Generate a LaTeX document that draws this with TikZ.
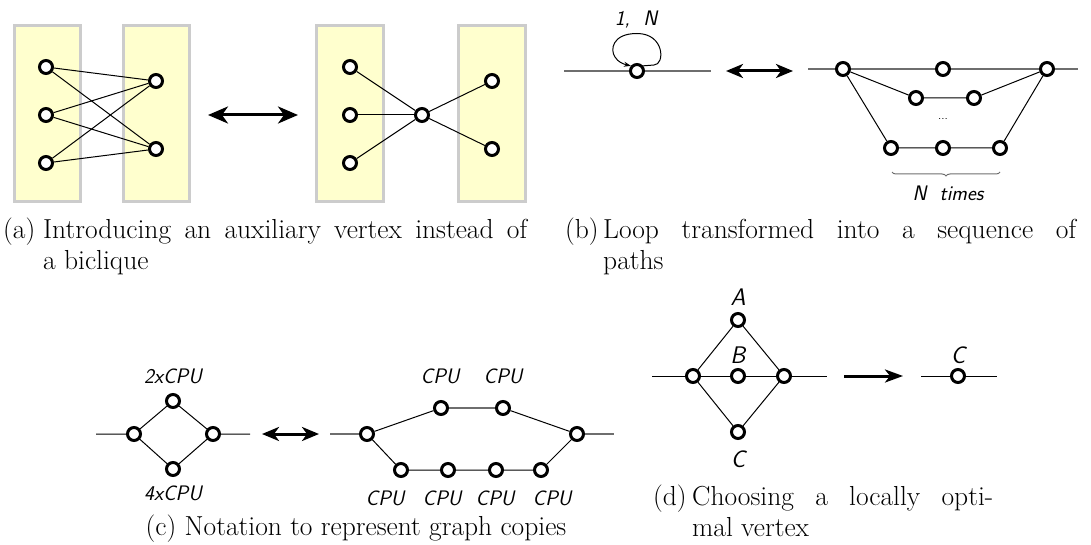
\documentclass[tikz,border=0pt]{standalone}
\usepackage{fontspec}
\usetikzlibrary{arrows.meta,decorations.pathreplacing}
\definecolor{panelfill}{RGB}{255,255,206}
\definecolor{panelline}{RGB}{204,204,204}
\definecolor{thrugray}{RGB}{110,110,110}
\newcommand\capfont{\fontsize{27.5}{31}\selectfont}
\newcommand\lblfont{\sffamily\slshape\fontsize{21}{21}\selectfont}
\newcommand\biglblfont{\sffamily\slshape\fontsize{24}{24}\selectfont}

\begin{document}
\begin{tikzpicture}[x=1pt,y=-1pt,
  vtx/.style={circle,draw,fill=white,line width=3pt,minimum size=13pt,inner sep=0pt},
  edge/.style={line width=1pt},
  thru/.style={line width=1.4pt,draw=thrugray},
  panel/.style={fill=panelfill,draw=panelline,line width=3pt},
  dblbig/.style={line width=3pt,{Stealth[length=20pt,width=17pt,inset=6pt]}-{Stealth[length=20pt,width=17pt,inset=6pt]}},
  dblsmall/.style={line width=3pt,{Stealth[length=17pt,width=14pt,inset=5pt]}-{Stealth[length=17pt,width=14pt,inset=5pt]}},
  onearrow/.style={line width=3pt,-{Stealth[length=18pt,width=13pt,inset=5pt]}},
  lbl/.style={font=\lblfont,inner sep=0pt,anchor=base},
  biglbl/.style={font=\biglblfont,inner sep=0pt,anchor=base},
  captxt/.style={font=\capfont,inner sep=0pt,anchor=base west}]
\useasboundingbox (0,0) rectangle (1091,545);

% ---------- (a) biclique vs. auxiliary vertex ----------
\draw[panel] (14,26) rectangle (80,202);
\draw[panel] (123,26) rectangle (189,202);
\draw[panel] (316,26) rectangle (383,202);
\draw[panel] (458,26) rectangle (525,202);

\node[vtx] (a1) at (46,67) {};
\node[vtx] (a2) at (46,115) {};
\node[vtx] (a3) at (46,163) {};
\node[vtx] (b1) at (156,81) {};
\node[vtx] (b2) at (156,149) {};
\foreach \u in {a1,a2,a3}
  \foreach \v in {b1,b2}
    \draw[edge] (\u) -- (\v);

\coordinate (arAL) at (208,115);
\coordinate (arAR) at (298,115);
\draw[dblbig] (arAL) -- (arAR);

\node[vtx] (c1) at (350,67) {};
\node[vtx] (c2) at (350,115) {};
\node[vtx] (c3) at (350,163) {};
\node[vtx] (hub) at (422,115) {};
\node[vtx] (d1) at (492,81) {};
\node[vtx] (d2) at (492,149) {};
\foreach \u in {c1,c2,c3,d1,d2}
  \draw[edge] (\u) -- (hub);

% ---------- (b) loop unrolled into paths ----------
\coordinate (p0) at (564,71);
\coordinate (p1) at (711,71);
\node[vtx] (lp) at (637,71) {};
\draw[thru] (p0) -- (lp) -- (p1);
\draw[line width=1pt,-{Stealth[length=7pt,width=5pt]}]
  (lp.40) -- (654,65) .. controls (665,65) and (665,33.5) .. (637,33.5)
  .. controls (612,33.5) and (610,50) .. (615,57)
  .. controls (618,62) and (623,64) .. (lp.140);
\node[lbl] (lpl) at (636,26) {1,\ \ N};

\coordinate (arBL) at (726,71);
\coordinate (arBR) at (793,71);
\draw[dblsmall] (arBL) -- (arBR);

\coordinate (q0) at (808,69);
\coordinate (q1) at (1078,69);
\node[vtx] (t1) at (843,69) {};
\node[vtx] (t2) at (943,69) {};
\node[vtx] (t3) at (1047,69) {};
\node[vtx] (m1) at (916,98) {};
\node[vtx] (m2) at (974,98) {};
\node[vtx] (u1) at (891,148) {};
\node[vtx] (u2) at (943,148) {};
\node[vtx] (u3) at (1000,148) {};
\draw[thru] (q0) -- (t1) -- (t2) -- (t3) -- (q1);
\draw[edge] (t1) -- (m1) -- (m2) -- (t3);
\draw[edge] (t1) -- (u1) -- (u2) -- (u3) -- (t3);
\node[font=\sffamily\fontsize{12}{12}\selectfont,inner sep=0pt] (dots) at (943,119) {...};
\coordinate (br0) at (892,172);
\coordinate (br1) at (1000,172);
\draw[thrugray,line width=1pt,decorate,decoration={brace,amplitude=4pt}] (br1) -- (br0);
\node[lbl] (ntimes) at (948,201) {N\ \ times};

% ---------- (c) notation for graph copies ----------
\coordinate (cl0) at (96,434);
\coordinate (cl1) at (250,434);
\node[vtx] (k1) at (134,434) {};
\node[vtx] (k2) at (173,401) {};
\node[vtx] (k3) at (213,434) {};
\node[vtx] (k4) at (173,469) {};
\draw[edge] (cl0) -- (k1) -- (k2) -- (k3) -- (cl1);
\draw[edge] (k1) -- (k4) -- (k3);
\node[lbl] (k2l) at (173,383) {2xCPU};
\node[lbl] (k4l) at (173,500) {4xCPU};

\coordinate (arCL) at (262,434);
\coordinate (arCR) at (319,434);
\draw[dblsmall] (arCL) -- (arCR);

\coordinate (cr0) at (330,434);
\coordinate (cr1) at (614,434);
\node[vtx] (r0) at (367,434) {};
\node[vtx] (r1) at (441,408) {};
\node[vtx] (r2) at (503,408) {};
\node[vtx] (r3) at (577,434) {};
\node[vtx] (s1) at (401,470) {};
\node[vtx] (s2) at (448,470) {};
\node[vtx] (s3) at (496,470) {};
\node[vtx] (s4) at (541,470) {};
\draw[thru] (cr0) -- (r0);
\draw[thru] (r1) -- (r2);
\draw[thru] (r3) -- (cr1);
\draw[edge] (r0) -- (r1);
\draw[edge] (r2) -- (r3);
\draw[edge] (r0) -- (s1) -- (s2) -- (s3) -- (s4) -- (r3);
\node[lbl] (r1l) at (440,383) {CPU};
\node[lbl] (r2l) at (503,383) {CPU};
\node[lbl] (s1l) at (385,505) {CPU};
\node[lbl] (s2l) at (442,505) {CPU};
\node[lbl] (s3l) at (495,505) {CPU};
\node[lbl] (s4l) at (552,505) {CPU};

% ---------- (d) choosing a locally optimal vertex ----------
\coordinate (dl0) at (652,376);
\coordinate (dl1) at (827,376);
\node[vtx] (e1) at (693,376) {};
\node[vtx] (eB) at (738,376) {};
\node[vtx] (e3) at (784,376) {};
\node[vtx] (eA) at (738,320) {};
\node[vtx] (eC) at (738,432) {};
\draw[edge] (dl0) -- (e1) -- (eB) -- (e3) -- (dl1);
\draw[edge] (e1) -- (eA) -- (e3);
\draw[edge] (e1) -- (eC) -- (e3);
\node[biglbl] (eAl) at (738,305) {A};
\node[biglbl] (eBl) at (738,363) {B};
\node[biglbl] (eCl) at (738,467) {C};

\coordinate (arDL) at (844,376);
\coordinate (arDR) at (903,376);
\draw[onearrow] (arDL) -- (arDR);

\coordinate (fl0) at (921,376);
\coordinate (fl1) at (997,376);
\node[vtx] (f) at (958,376) {};
\draw[edge] (fl0) -- (f) -- (fl1);
\node[biglbl] (fl) at (958,363) {C};

% ---------- captions ----------
\node[captxt] (capa) at (3,239) {\makebox[40pt][l]{(a)}\vtop{\hbox to 484pt{Introducing an auxiliary vertex instead of}\hbox{a biclique}}};
\node[captxt] (capb) at (565,239) {\makebox[38pt][l]{(b)}\vtop{\hbox to 473pt{Loop transformed into a sequence of}\hbox{paths}}};
\node[captxt,anchor=base] (capc) at (356,535) {(c) Notation to represent graph copies};
\node[captxt] (capd) at (653,505) {\makebox[39pt][l]{(d)}\vtop{\hbox to 301pt{Choosing a locally opti-}\hbox{mal vertex}}};
\end{tikzpicture}
\end{document}
